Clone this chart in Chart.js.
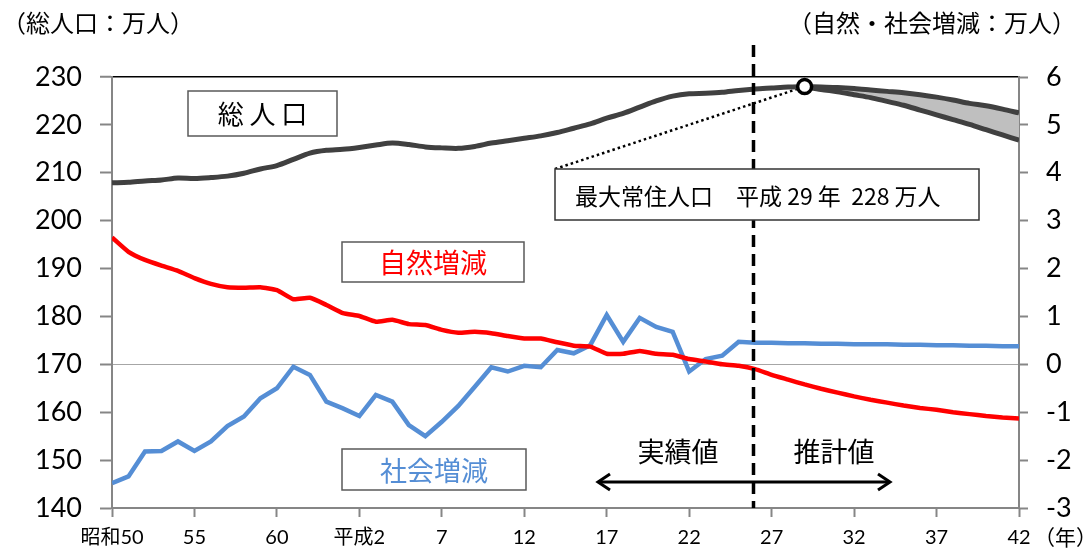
<!DOCTYPE html>
<html>
<head>
<meta charset="utf-8">
<script src="https://cdn.jsdelivr.net/npm/chart.js@4"></script>
<style>
  body { margin: 0; background: #fff; }
  #wrap { width: 1089px; height: 549px; }
</style>
</head>
<body>
<div id="wrap"><canvas id="popChart" width="1089" height="549"></canvas></div>
<script>
// 年（西暦）昭和50〜平成42
const years = [
    1975, 1976, 1977, 1978, 1979, 1980, 1981, 1982, 1983, 1984,
    1985, 1986, 1987, 1988, 1989, 1990, 1991, 1992, 1993, 1994,
    1995, 1996, 1997, 1998, 1999, 2000, 2001, 2002, 2003, 2004,
    2005, 2006, 2007, 2008, 2009, 2010, 2011, 2012, 2013, 2014,
    2015, 2016, 2017, 2018, 2019, 2020, 2021, 2022, 2023, 2024,
    2025, 2026, 2027, 2028, 2029, 2030
];
const xTickLabels = ["昭和50", "55", "60", "平成2", "7", "12", "17", "22", "27", "32", "37", "42"];

// 総人口（万人）1975〜2017
const totalActual = [
    207.9, 208.0, 208.3, 208.5, 208.9, 208.8, 209.0, 209.3, 209.9, 210.8,
    211.5, 212.8, 214.1, 214.7, 214.9, 215.3, 215.8, 216.2, 215.9, 215.4,
    215.2, 215.1, 215.5, 216.2, 216.7, 217.2, 217.7, 218.4, 219.3, 220.2,
    221.4, 222.4, 223.7, 225.0, 226.0, 226.5, 226.6, 226.8, 227.2, 227.5,
    227.7, 227.9, 228.0
];
// 推計 2017〜2030（上限・下限）
const totalHigh = [228.0, 227.9, 227.8, 227.6, 227.3, 227.0, 226.7, 226.3, 225.8, 225.2, 224.5, 224.0, 223.3, 222.5];
const totalLow = [228.0, 227.4, 226.9, 226.3, 225.7, 224.9, 224.1, 223.1, 222.1, 221.1, 220.1, 219.0, 217.9, 216.8];

// 自然増減（万人）1975〜2030
const naturalChange = [
    2.65, 2.35, 2.18, 2.06, 1.95, 1.80, 1.68, 1.61, 1.60, 1.61,
    1.55, 1.36, 1.39, 1.24, 1.07, 1.01, 0.89, 0.93, 0.84, 0.82,
    0.72, 0.66, 0.68, 0.65, 0.59, 0.54, 0.54, 0.46, 0.39, 0.37,
    0.22, 0.22, 0.28, 0.22, 0.20, 0.11, 0.06, 0.00, -0.03, -0.10,
    -0.22, -0.32, -0.42, -0.51, -0.59, -0.67, -0.74, -0.80, -0.86, -0.91,
    -0.95, -1.00, -1.04, -1.08, -1.11, -1.13
];
// 社会増減（万人）1975〜2030
const socialChange = [
    -2.48, -2.34, -1.82, -1.81, -1.61, -1.81, -1.61, -1.29, -1.09, -0.71,
    -0.50, -0.05, -0.22, -0.78, -0.92, -1.08, -0.64, -0.78, -1.27, -1.50,
    -1.20, -0.87, -0.47, -0.06, -0.15, -0.03, -0.06, 0.30, 0.23, 0.40,
    1.03, 0.47, 0.97, 0.78, 0.68, -0.15, 0.11, 0.18, 0.47, 0.45,
    0.45, 0.44, 0.44, 0.43, 0.43, 0.42, 0.42, 0.42, 0.41, 0.41,
    0.40, 0.40, 0.39, 0.39, 0.38, 0.38
];

const peakYear = 2017;
const peakValue = 228;
const dividerYear = 2013.9;

const JP_FONT = "'Noto Sans CJK JP', sans-serif";
const NUM_FONT = "Lato, 'Noto Sans CJK JP', sans-serif";

function toPoints(values, startIndex) {
    return values.map((v, i) => ({ x: years[startIndex + i], y: v }));
}

function drawBox(ctx, x, y, w, h, text, color, font) {
    ctx.save();
    ctx.fillStyle = "#fff";
    ctx.fillRect(x, y, w, h);
    ctx.strokeStyle = "#595959";
    ctx.lineWidth = 1.5;
    ctx.strokeRect(x, y, w, h);
    ctx.fillStyle = color;
    ctx.font = font;
    ctx.textAlign = "center";
    ctx.textBaseline = "middle";
    ctx.fillText(text, x + w / 2, y + h / 2 + 1);
    ctx.restore();
}

function drawArrowHead(ctx, x, y, dir) {
    ctx.beginPath();
    ctx.moveTo(x - dir * 12, y - 8);
    ctx.lineTo(x, y);
    ctx.lineTo(x - dir * 12, y + 8);
    ctx.stroke();
}

const annotationPlugin = {
    id: "annotationPlugin",
    beforeDatasetsDraw(chart) {
        const ctx = chart.ctx;
        const xs = chart.scales.x;
        const ys = chart.scales.y;
        // dotted leader from label box to the peak point
        ctx.save();
        ctx.strokeStyle = "#000";
        ctx.lineWidth = 2.5;
        ctx.setLineDash([2.5, 3]);
        ctx.beginPath();
        ctx.moveTo(555, 169);
        ctx.lineTo(xs.getPixelForValue(peakYear), ys.getPixelForValue(peakValue));
        ctx.stroke();
        ctx.restore();
    },
    afterDatasetsDraw(chart) {
        const ctx = chart.ctx;
        const area = chart.chartArea;
        const divX = chart.scales.x.getPixelForValue(dividerYear);

        // 実績値 / 推計値 divider
        ctx.save();
        ctx.strokeStyle = "#000";
        ctx.lineWidth = 3.5;
        ctx.setLineDash([12, 7]);
        ctx.beginPath();
        ctx.moveTo(divX, 45);
        ctx.lineTo(divX, area.bottom);
        ctx.stroke();
        ctx.restore();

        drawBox(ctx, 188, 91, 149, 45, "総 人 口", "#000", "26px " + JP_FONT);
        drawBox(ctx, 342, 242, 182, 40, "自然増減", "#ff0000", "27px " + JP_FONT);
        drawBox(ctx, 342, 449, 184, 41, "社会増減", "#558ed5", "27px " + JP_FONT);

        // 最大常住人口 box
        ctx.save();
        ctx.fillStyle = "#fff";
        ctx.fillRect(555, 169, 424, 51);
        ctx.strokeStyle = "#333";
        ctx.lineWidth = 1.5;
        ctx.strokeRect(555, 169, 424, 51);
        ctx.fillStyle = "#000";
        ctx.font = "23px " + JP_FONT;
        ctx.textBaseline = "middle";
        ctx.textAlign = "left";
        ctx.fillText("最大常住人口　平成 29 年  228 万人", 575, 196);
        ctx.restore();

        // arrows
        ctx.save();
        ctx.strokeStyle = "#000";
        ctx.lineWidth = 3;
        ctx.beginPath();
        ctx.moveTo(599, 482);
        ctx.lineTo(889, 482);
        ctx.stroke();
        drawArrowHead(ctx, 598, 482, -1);
        drawArrowHead(ctx, 890, 482, 1);
        ctx.fillStyle = "#000";
        ctx.font = "27px " + JP_FONT;
        ctx.textAlign = "center";
        ctx.textBaseline = "middle";
        ctx.fillText("実績値", 678, 452);
        ctx.fillText("推計値", 834, 452);
        ctx.restore();

        // unit labels
        ctx.save();
        ctx.fillStyle = "#000";
        ctx.font = "24px " + JP_FONT;
        ctx.textBaseline = "middle";
        ctx.textAlign = "left";
        ctx.fillText("（総人口：万人）", 2, 23);
        ctx.textAlign = "right";
        ctx.fillText("（自然・社会増減：万人）", 1076, 23);
        ctx.font = "21px " + JP_FONT;
        ctx.textAlign = "left";
        ctx.fillText("（年）", 1034, 537);
        ctx.restore();
    }
};

const axisGray = "#868686";

new Chart(document.getElementById("popChart"), {
    type: "line",
    data: {
        datasets: [
            {
                label: "最大常住人口",
                data: [{ x: peakYear, y: peakValue }],
                yAxisID: "y",
                showLine: false,
                pointRadius: 7,
                pointBackgroundColor: "#fff",
                pointBorderColor: "#000",
                pointBorderWidth: 3.5,
                order: 0
            },
            {
                label: "総人口",
                data: toPoints(totalActual, 0),
                yAxisID: "y",
                borderColor: "#404040",
                borderWidth: 5,
                pointRadius: 0,
                tension: 0.3,
                fill: false,
                order: 1
            },
            {
                label: "総人口（推計・上位）",
                data: toPoints(totalHigh, 42),
                yAxisID: "y",
                borderColor: "#404040",
                borderWidth: 5,
                pointRadius: 0,
                tension: 0.3,
                fill: false,
                order: 1
            },
            {
                label: "総人口（推計・下位）",
                data: toPoints(totalLow, 42),
                yAxisID: "y",
                borderColor: "#404040",
                backgroundColor: "#bfbfbf",
                borderWidth: 5,
                pointRadius: 0,
                tension: 0.3,
                fill: "-1",
                order: 1
            },
            {
                label: "自然増減",
                data: toPoints(naturalChange, 0),
                yAxisID: "y1",
                borderColor: "#ff0000",
                borderWidth: 4.5,
                pointRadius: 0,
                tension: 0.15,
                fill: false,
                order: 2
            },
            {
                label: "社会増減",
                data: toPoints(socialChange, 0),
                yAxisID: "y1",
                borderColor: "#558ed5",
                borderWidth: 4.5,
                pointRadius: 0,
                tension: 0,
                fill: false,
                order: 3
            }
        ]
    },
    options: {
        responsive: false,
        animation: false,
        layout: { padding: { top: 77, left: 0, right: 0, bottom: 0 } },
        plugins: {
            legend: { display: false },
            tooltip: { enabled: false }
        },
        scales: {
            x: {
                type: "linear",
                min: 1975,
                max: 2030,
                afterFit: (s) => { s.height = 41; },
                border: { color: axisGray, width: 2 },
                grid: { drawOnChartArea: false, tickLength: 9, tickColor: axisGray, tickWidth: 2 },
                ticks: {
                    stepSize: 5,
                    padding: 9,
                    color: "#000",
                    maxRotation: 0,
                    font: { family: NUM_FONT, size: 20 },
                    callback: (value, index) => xTickLabels[index]
                }
            },
            y: {
                position: "left",
                min: 140,
                max: 230,
                afterFit: (s) => { s.width = 112; },
                border: { color: axisGray, width: 2 },
                grid: {
                    drawOnChartArea: true,
                    tickLength: 12,
                    tickColor: axisGray,
                    tickWidth: 2,
                    color: (c) => c.tick.value === 230 ? "#000" : (c.tick.value === 170 ? "#a6a6a6" : "rgba(0,0,0,0)"),
                    lineWidth: (c) => c.tick.value === 230 ? 1.5 : 1
                },
                ticks: {
                    stepSize: 10,
                    padding: 18,
                    color: "#000",
                    font: { family: NUM_FONT, size: 27 }
                }
            },
            y1: {
                position: "right",
                min: -3,
                max: 6,
                afterFit: (s) => { s.width = 70; },
                border: { color: axisGray, width: 2 },
                grid: { drawOnChartArea: false, tickLength: 9, tickColor: axisGray, tickWidth: 2 },
                ticks: {
                    stepSize: 1,
                    padding: 18,
                    color: "#000",
                    font: { family: NUM_FONT, size: 27 }
                }
            }
        }
    },
    plugins: [annotationPlugin]
});
</script>
</body>
</html>
